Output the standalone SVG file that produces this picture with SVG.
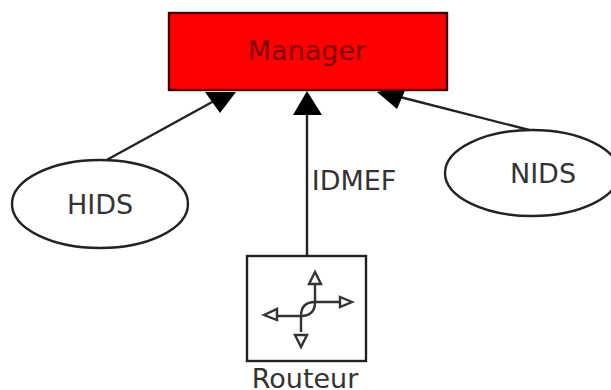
<svg xmlns="http://www.w3.org/2000/svg" width="611" height="390" viewBox="0 0 611 390">
<style>
.l{fill:none;stroke:#222;stroke-width:2.4}
.t{font-family:"DejaVu Sans",sans-serif;font-size:27px;fill:#333;text-anchor:middle}
.s{fill:#fff;stroke:#222;stroke-width:2.4}
.h{fill:#000}
.i{fill:none;stroke:#333;stroke-width:2.4}
.a{fill:#fff;stroke:#333;stroke-width:2.4}
</style>
<rect width="611" height="390" fill="#fff"/>
<g id="connectors">
<path class="l" d="M103 162L214 101"/>
<path class="l" d="M307 256V112"/>
<path class="l" d="M533 131L400 97"/>
<polygon class="h" points="205,92 236,92 220,113"/>
<polygon class="h" points="293,115 322,115 307,91"/>
<polygon class="h" points="377,92 407,86 397,109"/>
</g>
<g id="manager">
<rect x="169" y="13" width="278" height="77" fill="#f00" stroke="#400" stroke-width="2.4"/>
<text x="307" y="60" class="t" style="fill:#800000">Manager</text>
</g>
<g id="hids">
<ellipse class="s" cx="100" cy="204" rx="88" ry="44"/>
<text x="100" y="214" class="t">HIDS</text>
</g>
<g id="nids">
<ellipse class="s" cx="532" cy="173" rx="87" ry="43"/>
<text x="543" y="183" class="t">NIDS</text>
</g>
<g id="idmef">
<text x="354" y="190" class="t">IDMEF</text>
</g>
<g id="routeur">
<rect class="s" x="247" y="256" width="119" height="105"/>
<path class="i" d="M315 284V302Q315 316 301 316H277"/>
<path class="i" d="M301 332V316Q301 302 315 302H339"/>
<polygon class="a" points="315,272 309,284 321,284"/>
<polygon class="a" points="352,302 340,297 340,307"/>
<polygon class="a" points="264,315 277,309 277,320"/>
<polygon class="a" points="301,347 295,335 307,335"/>
<text x="305" y="388" class="t">Routeur</text>
</g>
</svg>
